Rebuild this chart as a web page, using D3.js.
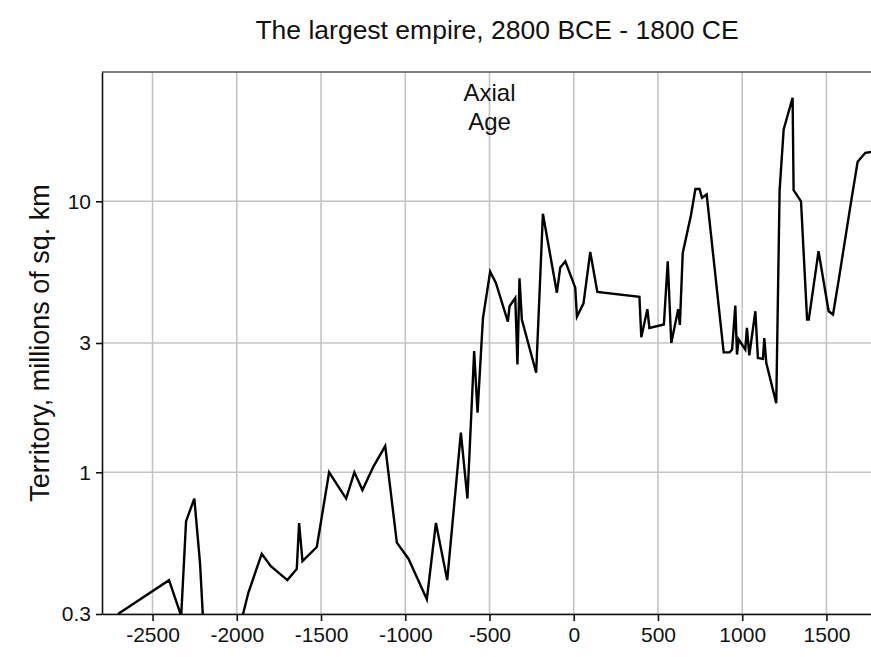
<!DOCTYPE html>
<html>
<head>
<meta charset="utf-8">
<script src="https://cdn.jsdelivr.net/npm/d3@7"></script>
<style>
  html, body { margin: 0; padding: 0; background: #fff; }
  svg { display: block; font-family: "Liberation Sans", Arial, Helvetica, sans-serif; }
</style>
</head>
<body>
<svg id="chart" width="871" height="657"></svg>
<script>
// ---- data ----
const years = [
  -2705, -2402, -2330, -2301, -2252, -2218, -2195, -1975, -1931, -1852,
  -1798, -1700, -1644, -1630, -1610, -1525, -1452, -1351, -1302, -1254,
  -1189, -1119, -1050, -981, -931, -872, -818, -751, -670, -631,
  -591, -571, -539, -496, -462, -391, -381, -347, -334, -322,
  -308, -223, -183, -100, -80, -50, 9, 19, 58, 98,
  140, 390, 401, 437, 449, 535, 558, 579, 620, 630,
  647, 696, 722, 747, 761, 789, 890, 925, 940, 959,
  969, 979, 1018, 1028, 1042, 1078, 1093, 1123, 1131, 1143,
  1202, 1222, 1246, 1299, 1305, 1349, 1385, 1395, 1453, 1513,
  1539, 1573, 1642, 1685, 1731, 1767, 1800
];
const territory = [
  0.30, 0.40, 0.295, 0.66, 0.80, 0.46, 0.25, 0.28, 0.36, 0.50,
  0.45, 0.40, 0.44, 0.65, 0.47, 0.53, 1.0, 0.80, 1.0, 0.86,
  1.05, 1.25, 0.55, 0.48, 0.41, 0.34, 0.65, 0.40, 1.4, 0.80,
  2.8, 1.66, 3.7, 5.5, 5.0, 3.6, 4.1, 4.4, 2.5, 5.2,
  3.66, 2.33, 9.0, 4.6, 5.7, 6.0, 4.8, 3.75, 4.2, 6.5,
  4.63, 4.44, 3.15, 4.0, 3.41, 3.51, 6.0, 3.0, 4.0, 3.5,
  6.45, 8.9, 11.1, 11.1, 10.3, 10.6, 2.77, 2.77, 2.84, 4.12,
  2.72, 3.09, 2.84, 3.41, 2.70, 3.93, 2.64, 2.62, 3.13, 2.53,
  1.80, 11.0, 18.4, 24.1, 11.0, 10.0, 3.66, 3.66, 6.54, 3.93,
  3.82, 5.14, 9.6, 14.0, 15.1, 15.2, 15.3
];
const xTicks = [-2500, -2000, -1500, -1000, -500, 0, 500, 1000, 1500];
const yTicks = [0.3, 1, 3, 10];
const yTickLabels = ["0.3", "1", "3", "10"];
const title = "The largest empire, 2800 BCE - 1800 CE";
const yLabel = "Territory, millions of sq. km";
const annotation = ["Axial", "Age"];
const annotationYear = -500;

// ---- layout ----
const svg = d3.select("#chart");
const plotLeft = 102, plotRight = 877, plotTop = 72, plotBottom = 614;

const x = d3.scaleLinear().domain([-2800, 1800]).range([plotLeft, plotRight]);
const y = d3.scaleLog().domain([0.3, 30]).range([plotBottom, plotTop]);

// clip
svg.append("defs").append("clipPath").attr("id", "plotclip")
  .append("rect").attr("x", plotLeft).attr("y", plotTop)
  .attr("width", plotRight - plotLeft).attr("height", plotBottom - plotTop);

// grid
const grid = svg.append("g");
grid.selectAll("line.vx").data(xTicks).join("line")
  .attr("x1", d => x(d)).attr("x2", d => x(d))
  .attr("y1", plotTop).attr("y2", plotBottom)
  .attr("stroke", "#c4c4c4").attr("stroke-width", 1.6);
grid.selectAll("line.hy").data(yTicks).join("line")
  .attr("x1", plotLeft).attr("x2", plotRight)
  .attr("y1", d => y(d)).attr("y2", d => y(d))
  .attr("stroke", "#c4c4c4").attr("stroke-width", 1.6);

// top frame line
svg.append("line").attr("x1", plotLeft).attr("x2", plotRight)
  .attr("y1", plotTop).attr("y2", plotTop)
  .attr("stroke", "#555").attr("stroke-width", 1.6);

// axes
const xAxis = d3.axisBottom(x).tickValues(xTicks).tickSize(7).tickSizeOuter(0).tickPadding(6)
  .tickFormat(d => String(d));
const gx = svg.append("g").attr("transform", `translate(0,${plotBottom})`).call(xAxis);
gx.select(".domain").attr("stroke", "#111").attr("stroke-width", 1.6);
gx.selectAll(".tick line").attr("stroke", "#111").attr("stroke-width", 1.6);
gx.selectAll(".tick text").attr("font-size", 21).attr("fill", "#111")
  .attr("font-family", "Liberation Sans, Arial, sans-serif");

const yAxis = d3.axisLeft(y).tickValues(yTicks).tickSize(6).tickSizeOuter(0).tickPadding(5)
  .tickFormat((d, i) => yTickLabels[i]);
const gy = svg.append("g").attr("transform", `translate(${plotLeft},0)`).call(yAxis);
gy.select(".domain").attr("stroke", "#111").attr("stroke-width", 1.6);
gy.selectAll(".tick line").attr("stroke", "#111").attr("stroke-width", 1.6);
gy.selectAll(".tick text").attr("font-size", 21).attr("fill", "#111")
  .attr("font-family", "Liberation Sans, Arial, sans-serif");

// line
const data = years.map((yr, i) => ({ year: yr, v: territory[i] }));
svg.append("path").datum(data)
  .attr("clip-path", "url(#plotclip)")
  .attr("fill", "none").attr("stroke", "#000").attr("stroke-width", 2.4)
  .attr("stroke-linejoin", "miter")
  .attr("d", d3.line().x(d => x(d.year)).y(d => y(d.v)));

// annotation
const ann = svg.append("text").attr("text-anchor", "middle")
  .attr("font-size", 24).attr("fill", "#111");
annotation.forEach((t, i) => {
  ann.append("tspan").attr("x", x(annotationYear)).attr("y", 101 + i * 29).text(t);
});

// title
svg.append("text").attr("x", 497).attr("y", 39).attr("text-anchor", "middle")
  .attr("font-size", 26.5).attr("fill", "#111").text(title);

// y label
svg.append("text").attr("transform", `translate(49,343) rotate(-90)`)
  .attr("text-anchor", "middle").attr("font-size", 27).attr("fill", "#111")
  .text(yLabel);
</script>
</body>
</html>
